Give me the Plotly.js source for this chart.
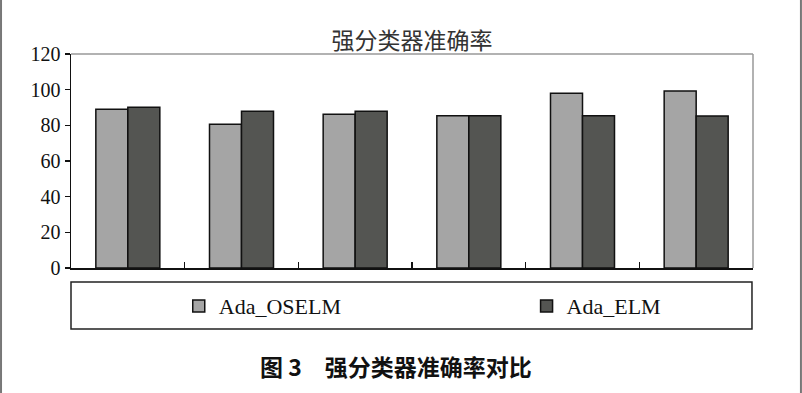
<!DOCTYPE html>
<html>
<head>
<meta charset="utf-8">
<script src="https://cdn.plot.ly/plotly-3.0.1.min.js"></script>
<style>html,body{margin:0;padding:0;background:#fff;}#chart{width:802px;height:393px;}</style>
</head>
<body>
<div id="chart"></div>
<script>
var categories = ['1', '2', '3', '4', '5', '6'];
var seriesNames = ['Ada_OSELM', 'Ada_ELM'];
var adaOselm = [89.0, 80.6, 86.2, 85.4, 98.0, 99.3];
var adaElm = [90.1, 87.9, 87.9, 85.4, 85.4, 85.2];
var yTicks = [0, 20, 40, 60, 80, 100, 120];
var titleText = '强分类器准确率';
var captionText = '图 3　强分类器准确率对比';

var serif = '"Liberation Serif", "Times New Roman", serif';
var cjk = '"Noto Sans CJK SC", sans-serif';

var traces = [
  {type: 'bar', name: seriesNames[0], x: categories, y: adaOselm, legend: 'legend',
   marker: {color: '#a5a5a5', line: {color: '#111', width: 1.5}}},
  {type: 'bar', name: seriesNames[1], x: categories, y: adaElm, legend: 'legend2',
   marker: {color: '#545552', line: {color: '#111', width: 1.5}}}
];

var legendFont = {family: serif, size: 22, color: '#111'};

var layout = {
  width: 802, height: 393,
  margin: {l: 71, r: 49, t: 54, b: 125, pad: 0},
  paper_bgcolor: '#fff', plot_bgcolor: '#fff',
  barmode: 'group', bargap: 0.437, bargroupgap: 0,
  showlegend: true,
  title: {text: titleText, font: {family: cjk, size: 23, color: '#333'},
          x: 0.5, xref: 'paper', xanchor: 'center', y: 1 - 41 / 393, yref: 'container', yanchor: 'middle'},
  xaxis: {type: 'category', showticklabels: false, ticks: 'inside', tickson: 'boundaries',
          ticklen: 6, tickwidth: 1.5, tickcolor: '#111', showline: true, linecolor: '#111', linewidth: 1.5,
          showgrid: false, zeroline: false, fixedrange: true},
  yaxis: {range: [0, 120], tickvals: yTicks, ticktext: yTicks.map(String), ticks: 'outside', ticklen: 5,
          tickwidth: 1.2, tickcolor: '#111', showline: true, linecolor: '#111', linewidth: 1.5,
          showgrid: false, zeroline: false, tickfont: {family: serif, size: 20, color: '#111'}, fixedrange: true},
  legend: {orientation: 'h', x: 0.158, xanchor: 'left', y: -0.178, yanchor: 'middle',
           bgcolor: 'rgba(0,0,0,0)', borderwidth: 0, itemwidth: 30, font: legendFont},
  legend2: {orientation: 'h', x: 0.668, xanchor: 'left', y: -0.178, yanchor: 'middle',
           bgcolor: 'rgba(0,0,0,0)', borderwidth: 0, itemwidth: 30, font: legendFont},
  annotations: [
    {text: '<b>' + captionText + '</b>', xref: 'paper', yref: 'paper', x: 0.477, y: -0.458,
     xanchor: 'center', yanchor: 'middle', showarrow: false, font: {family: cjk, size: 23, color: '#111'}}
  ],
  shapes: [
    {type: 'line', xref: 'paper', yref: 'paper', x0: 0, x1: 1, y0: 1, y1: 1, line: {color: '#999', width: 1.5}},
    {type: 'line', xref: 'paper', yref: 'paper', x0: 1, x1: 1, y0: 0, y1: 1, line: {color: '#999', width: 1.5}},
    {type: 'rect', xref: 'paper', yref: 'paper', x0: 0, x1: 0.9985, y0: -0.285, y1: -0.0654, line: {color: '#222', width: 1.5}},
    {type: 'line', xref: 'paper', yref: 'paper', x0: -0.1026, x1: -0.1026, y0: -0.6, y1: 1.3, line: {color: '#777', width: 2}},
    {type: 'line', xref: 'paper', yref: 'paper', x0: 1.0703, x1: 1.0703, y0: -0.6, y1: 1.3, line: {color: '#777', width: 2}}
  ]
};

Plotly.newPlot('chart', traces, layout, {displayModeBar: false, staticPlot: true});
</script>
</body>
</html>
